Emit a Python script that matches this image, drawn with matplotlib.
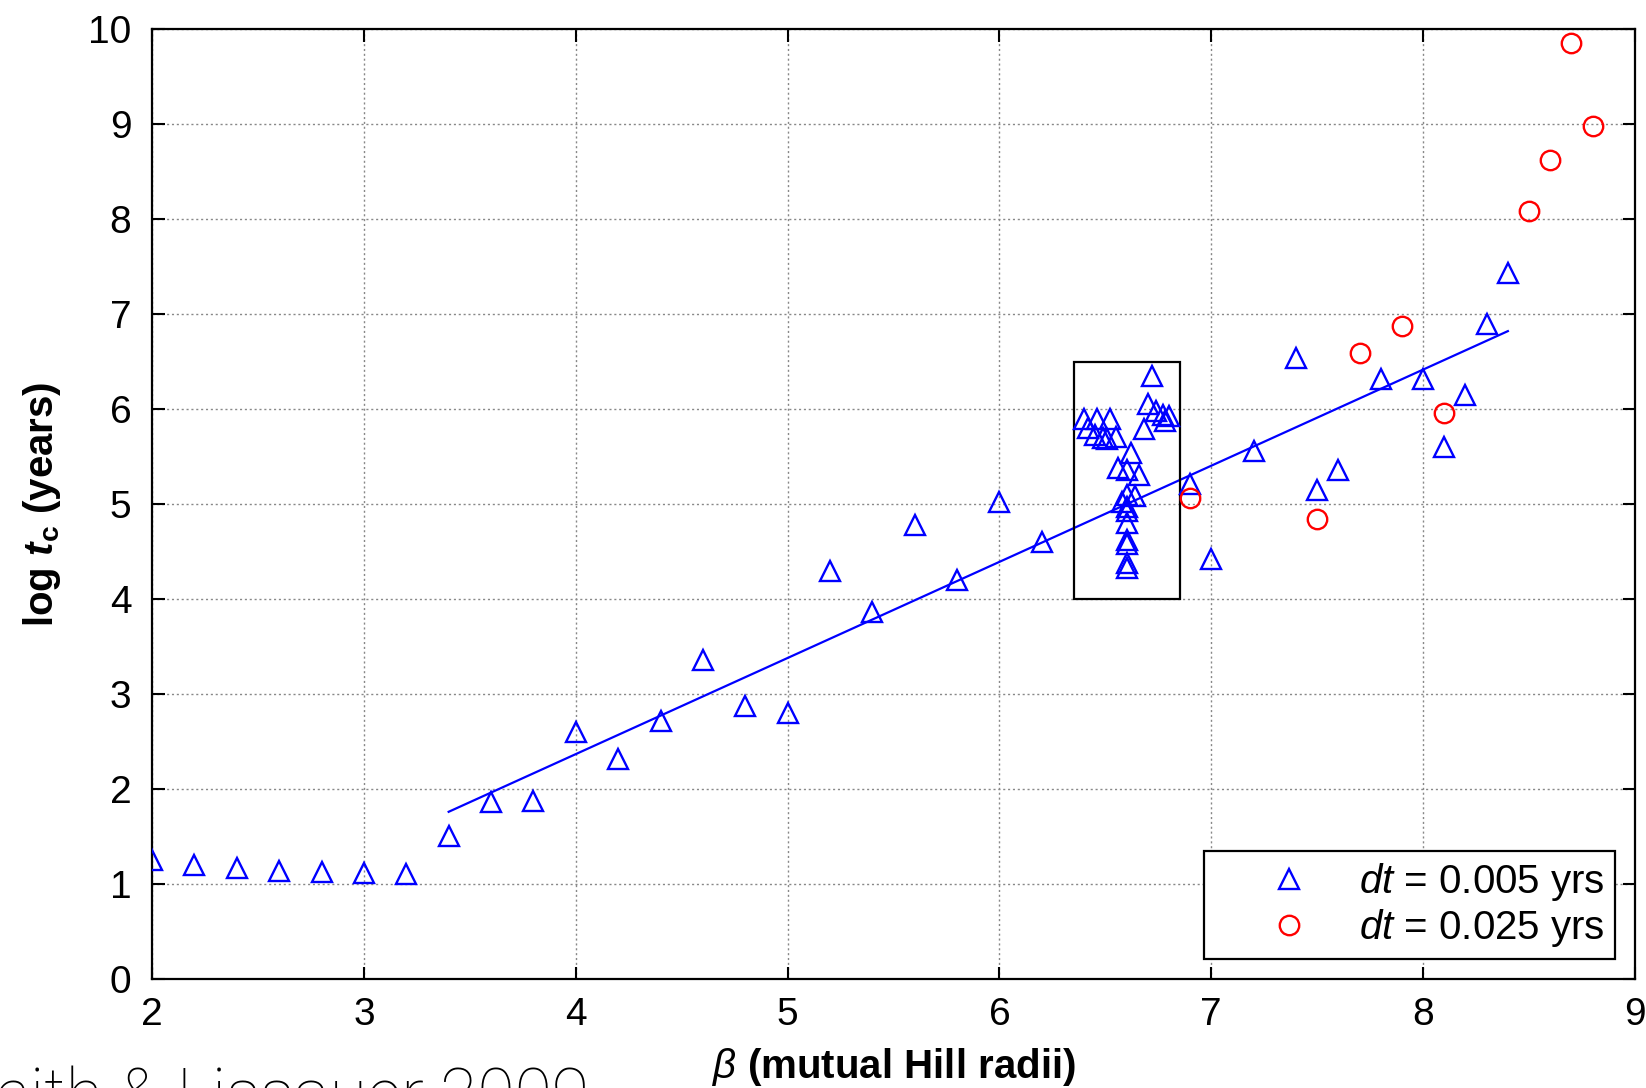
import matplotlib
matplotlib.use("Agg")
import matplotlib.pyplot as plt
from matplotlib.patches import Rectangle

plt.rcParams["font.family"] = ["Liberation Sans", "DejaVu Sans"]
plt.rcParams["mathtext.fontset"] = "custom"
plt.rcParams["mathtext.rm"] = "Liberation Sans"
plt.rcParams["mathtext.it"] = "Liberation Sans:italic"
plt.rcParams["mathtext.bf"] = "Liberation Sans:bold"
plt.rcParams["mathtext.bfit"] = "Liberation Sans:italic:bold"

# blue triangles, dt = 0.005 yrs
beta_005 = [2.0, 2.2, 2.4, 2.6, 2.8, 3.0, 3.2, 3.4, 3.6, 3.8,
            4.0, 4.2, 4.4, 4.6, 4.8, 5.0, 5.2, 5.4, 5.6, 5.8,
            6.0, 6.2,
            6.72, 6.70, 6.40, 6.46, 6.52, 6.42, 6.45, 6.49, 6.51, 6.55,
            6.74, 6.77, 6.80, 6.78, 6.68, 6.62, 6.56, 6.60, 6.66, 6.60,
            6.64, 6.58, 6.60, 6.60, 6.60, 6.60, 6.60, 6.60, 6.60,
            6.9, 7.0, 7.2, 7.4, 7.5, 7.6, 7.8, 8.0, 8.1, 8.2, 8.3, 8.4]
logt_005 = [1.25, 1.20, 1.17, 1.14, 1.13, 1.12, 1.10, 1.50, 1.86, 1.87,
            2.60, 2.32, 2.72, 3.36, 2.87, 2.80, 4.30, 3.86, 4.78, 4.20,
            5.02, 4.60,
            6.35, 6.05, 5.89, 5.89, 5.89, 5.80, 5.73, 5.70, 5.68, 5.71,
            5.98, 5.94, 5.93, 5.87, 5.79, 5.54, 5.38, 5.36, 5.31, 5.10,
            5.08, 5.02, 4.97, 4.93, 4.80, 4.62, 4.58, 4.38, 4.33,
            5.21, 4.42, 5.56, 6.54, 5.15, 5.36, 6.32, 6.32, 5.60, 6.15, 6.90, 7.43]

# red circles, dt = 0.025 yrs
beta_025 = [6.9, 7.5, 7.7, 7.9, 8.1, 8.5, 8.6, 8.7, 8.8]
logt_025 = [5.06, 4.84, 6.59, 6.87, 5.96, 8.08, 8.62, 9.85, 8.98]

# linear fit end points
fit_beta = [3.4, 8.4]
fit_logt = [1.76, 6.82]

fig = plt.figure(figsize=(16.46, 10.88), dpi=100)
ax = fig.add_axes([0.0924, 0.1002, 0.9009, 0.8731])

ax.plot(fit_beta, fit_logt, color="blue", lw=1.6, zorder=2)
ax.plot(beta_005, logt_005, linestyle="none", marker="^", ms=15,
        mfc="none", mec="blue", mew=1.7, label=r"$\mathit{dt}$ = 0.005 yrs", zorder=3)
ax.plot(beta_025, logt_025, linestyle="none", marker="o", ms=14,
        mfc="none", mec="red", mew=1.7, label=r"$\mathit{dt}$ = 0.025 yrs", zorder=3)

ax.add_patch(Rectangle((6.35, 4.0), 0.5, 2.5, fill=False, ec="black", lw=1.6, zorder=2))

ax.set_xlim(2, 9)
ax.set_ylim(0, 10)
ax.set_xticks(range(2, 10))
ax.set_yticks(range(0, 11))
ax.grid(True, color="#888888", linestyle=(0, (1.5, 2)), lw=1.0)
ax.set_axisbelow(True)
ax.tick_params(direction="in", length=9, width=1.5, top=True, right=True,
               labelsize=28)
ax.tick_params(axis="x", pad=13)
ax.tick_params(axis="y", pad=15)
for s in ax.spines.values():
    s.set_linewidth(1.6)

ax.set_xlabel(r"$\mathit{\beta}$ (mutual Hill radii)", fontsize=29,
              fontweight="bold", labelpad=9)
ax.set_ylabel(r"log $\mathbfit{t}_\mathbf{c}$ (years)", fontsize=29,
              fontweight="bold", labelpad=18)

leg = ax.legend(loc="lower right", fontsize=29, frameon=True, fancybox=False,
                edgecolor="black", framealpha=1, borderaxespad=0.5,
                handlelength=3.7, handletextpad=-0.1, borderpad=0.25,
                labelspacing=0.1)
leg.get_frame().set_linewidth(1.6)

fig.text(0.358, -0.027, "Smith & Lissauer 2009", ha="right", va="baseline",
         fontsize=49, family=["Roboto", "DejaVu Sans"], fontweight="light")

fig.savefig("out.png", dpi=100)
